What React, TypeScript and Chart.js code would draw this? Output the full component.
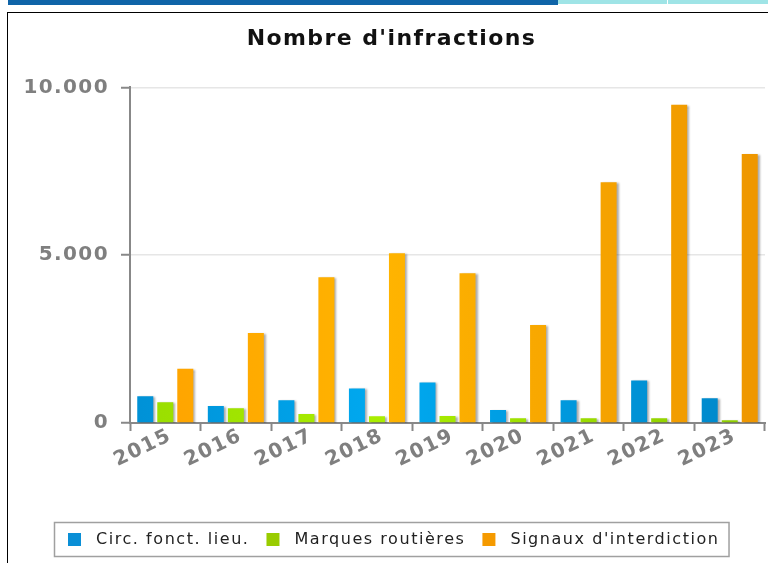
import React, { useEffect, useRef } from "react";
import { Chart, registerables } from "chart.js";

Chart.register(...registerables);

const titleText = "Nombre d'infractions";
const categories = ["2015", "2016", "2017", "2018", "2019", "2020", "2021", "2022", "2023"];
const seriesNames = ["Circ. fonct. lieu.", "Marques routières", "Signaux d'interdiction"];
const circFonctLieu = [800, 505, 675, 1030, 1210, 387, 675, 1270, 735];
const marquesRoutieres = [615, 437, 268, 200, 210, 140, 140, 140, 80];
const signauxInterdiction = [1620, 2680, 4345, 5060, 4460, 2917, 7170, 9485, 8015];
const yTicks = [0, 5000, 10000];
const yTickLabels = ["0", "5.000", "10.000"];

const legendColors = ["#0a8fd6", "#99cc00", "#f59a00"];
const gradientStops: string[][] = [
  ["#0091d6", "#00a9f0", "#0086c8"],
  ["#99dd00", "#aaee00", "#8ccc00"],
  ["#ffa200", "#ffb400", "#ee9600"],
];

const FONT = '"DejaVu Sans", Verdana, sans-serif';
const SPACING = "1.4px";

function gradientFor(idx: number) {
  return (c: any) => {
    const chart = c.chart;
    const area = chart.chartArea;
    if (!area) return gradientStops[idx][1];
    const g = chart.ctx.createLinearGradient(area.left, 0, area.right, 0);
    g.addColorStop(0, gradientStops[idx][0]);
    g.addColorStop(0.4, gradientStops[idx][1]);
    g.addColorStop(1, gradientStops[idx][2]);
    return g;
  };
}

const spacingPlugin = {
  id: "spacing",
  beforeLayout(chart: any) {
    chart.ctx.letterSpacing = SPACING;
  },
  beforeDraw(chart: any) {
    chart.ctx.letterSpacing = SPACING;
  },
  beforeDatasetsDraw(chart: any) {
    const ctx = chart.ctx;
    ctx.save();
    ctx.shadowColor = "rgba(0,0,0,0.32)";
    ctx.shadowOffsetX = 2;
    ctx.shadowOffsetY = 1;
    ctx.shadowBlur = 2;
  },
  afterDatasetsDraw(chart: any) {
    chart.ctx.restore();
  },
};

const boxedLegendPlugin = {
  id: "boxedLegend",
  afterDraw(chart: any) {
    const ctx = chart.ctx;
    ctx.save();
    ctx.letterSpacing = "1.55px";
    ctx.font = `16px ${FONT}`;
    const box = 13;
    const gapText = 15;
    const gapItem = 17;
    const padL = 14;
    const padR = 9;
    const widths = seriesNames.map((n) => ctx.measureText(n).width);
    const total =
      padL + widths.reduce((a, w) => a + box + gapText + w, 0) + gapItem * (seriesNames.length - 1) + padR;
    const left = Math.round((10 + chart.width - 3 - total) / 2);
    const top = 509;
    const height = 34;
    ctx.strokeStyle = "#a0a0a0";
    ctx.lineWidth = 1.5;
    ctx.strokeRect(left + 0.5, top + 0.5, total, height);
    let x = left + padL;
    const cy = top + height / 2;
    seriesNames.forEach((n, i) => {
      ctx.fillStyle = legendColors[i];
      ctx.fillRect(x, Math.round(cy - box / 2), box, box);
      x += box + gapText;
      ctx.fillStyle = "#222";
      ctx.textAlign = "left";
      ctx.textBaseline = "middle";
      ctx.fillText(n, x, cy + 1);
      x += widths[i] + gapItem;
    });
    ctx.restore();
  },
};

export default function App() {
  const ref = useRef<HTMLCanvasElement | null>(null);

  useEffect(() => {
    if (!ref.current) return;
    const chart = new Chart(ref.current, {
      type: "bar",
      data: {
        labels: categories,
        datasets: [
          { label: seriesNames[0], data: circFonctLieu, backgroundColor: gradientFor(0) },
          { label: seriesNames[1], data: marquesRoutieres, backgroundColor: gradientFor(1) },
          { label: seriesNames[2], data: signauxInterdiction, backgroundColor: gradientFor(2) },
        ],
      },
      options: {
        responsive: false,
        animation: false,
        devicePixelRatio: 1,
        layout: { padding: { left: 10, right: 3, top: 0, bottom: 0 } },
        datasets: {
          bar: { categoryPercentage: 0.851, barPercentage: 0.8, borderWidth: 0 },
        },
        plugins: {
          legend: { display: false },
          tooltip: { enabled: false },
          title: {
            display: true,
            text: titleText,
            color: "#111",
            font: { family: FONT, size: 22, weight: "bold" },
            padding: { top: 13, bottom: 35 },
          },
        },
        scales: {
          x: {
            offset: true,
            grid: {
              display: true,
              offset: true,
              drawOnChartArea: false,
              drawTicks: true,
              tickLength: 8,
              tickColor: "#888",
              tickWidth: 2,
            },
            border: { display: true, color: "#888", width: 2 },
            ticks: {
              autoSkip: false,
              minRotation: 26,
              maxRotation: 26,
              color: "#7f7f7f",
              padding: -7,
              labelOffset: 5,
              font: { family: FONT, size: 20, weight: "bold" },
            },
            afterFit(scale: any) {
              scale.height = 140;
            },
          },
          y: {
            min: 0,
            max: 10000,
            grid: {
              color: "#e6e6e6",
              lineWidth: 1.5,
              tickLength: 9,
              tickColor: "#888",
              tickWidth: 2,
            },
            border: { display: true, color: "#888", width: 2 },
            afterBuildTicks(scale: any) {
              scale.ticks = yTicks.map((v) => ({ value: v }));
            },
            ticks: {
              color: "#7f7f7f",
              padding: 12,
              font: { family: FONT, size: 20, weight: "bold" },
              callback: (v: any) => {
                const i = yTicks.indexOf(Number(v));
                return i >= 0 ? yTickLabels[i] : "";
              },
            },
            afterFit(scale: any) {
              scale.width = 112;
            },
          },
        },
      },
      plugins: [spacingPlugin, boxedLegendPlugin],
    });
    return () => chart.destroy();
  }, []);

  return (
    <div
      style={{
        position: "fixed",
        left: 0,
        top: 0,
        width: 768,
        height: 563,
        overflow: "hidden",
        background: "#fff",
      }}
    >
      <div style={{ position: "absolute", left: 8, top: 0, width: 550, height: 5, background: "#0f64a8" }} />
      <div style={{ position: "absolute", left: 558, top: 0, width: 109, height: 4, background: "#9fe4e6" }} />
      <div style={{ position: "absolute", left: 668, top: 0, width: 100, height: 4, background: "#9fe4e6" }} />
      <div
        style={{
          position: "absolute",
          left: 7,
          top: 12,
          width: 800,
          height: 600,
          borderLeft: "1px solid #000",
          borderTop: "1px solid #000",
        }}
      />
      <canvas ref={ref} width={760} height={550} style={{ position: "absolute", left: 8, top: 13 }} />
    </div>
  );
}
